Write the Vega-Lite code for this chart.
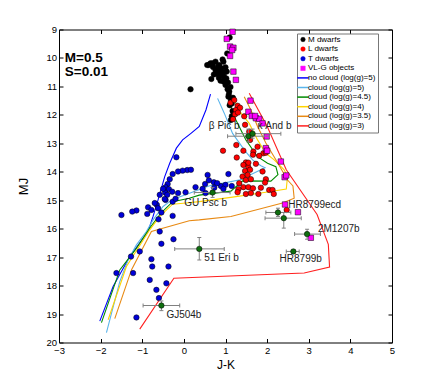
{
"$schema":"https://vega.github.io/schema/vega-lite/v6.json",
"width":333,"height":313,
"autosize":{"type":"none"},
"padding":{"left":59,"top":29.5,"right":44,"bottom":43},
"background":"white",
"config":{"view":{"stroke":"black","strokeWidth":1},"font":"Liberation Sans"},
"datasets":{
"models":[
{"s":"no cloud (log(g)=5)","i":0,"jk":0.64,"mj":11.27},{"s":"no cloud (log(g)=5)","i":1,"jk":0.53,"mj":11.83},{"s":"no cloud (log(g)=5)","i":2,"jk":0.37,"mj":12.41},{"s":"no cloud (log(g)=5)","i":3,"jk":0.17,"mj":12.65},{"s":"no cloud (log(g)=5)","i":4,"jk":-0.03,"mj":12.88},{"s":"no cloud (log(g)=5)","i":5,"jk":-0.18,"mj":13.17},{"s":"no cloud (log(g)=5)","i":6,"jk":-0.34,"mj":13.7},{"s":"no cloud (log(g)=5)","i":7,"jk":-0.46,"mj":14.17},{"s":"no cloud (log(g)=5)","i":8,"jk":-0.62,"mj":14.99},{"s":"no cloud (log(g)=5)","i":9,"jk":-0.74,"mj":15.57},{"s":"no cloud (log(g)=5)","i":10,"jk":-0.86,"mj":16.1},{"s":"no cloud (log(g)=5)","i":11,"jk":-1.3,"mj":16.98},{"s":"no cloud (log(g)=5)","i":12,"jk":-1.7,"mj":18.03},{"s":"no cloud (log(g)=5)","i":13,"jk":-2.02,"mj":19.25},
{"s":"cloud (log(g)=5)","i":0,"jk":0.81,"mj":11.42},{"s":"cloud (log(g)=5)","i":1,"jk":0.97,"mj":11.94},{"s":"cloud (log(g)=5)","i":2,"jk":1.17,"mj":12.65},{"s":"cloud (log(g)=5)","i":3,"jk":1.45,"mj":13.23},{"s":"cloud (log(g)=5)","i":4,"jk":1.65,"mj":13.58},{"s":"cloud (log(g)=5)","i":5,"jk":1.85,"mj":13.79},{"s":"cloud (log(g)=5)","i":6,"jk":1.95,"mj":13.86},{"s":"cloud (log(g)=5)","i":7,"jk":1.35,"mj":14.28},{"s":"cloud (log(g)=5)","i":8,"jk":0.95,"mj":14.4},{"s":"cloud (log(g)=5)","i":9,"jk":0.6,"mj":14.5},{"s":"cloud (log(g)=5)","i":10,"jk":0.2,"mj":14.72},{"s":"cloud (log(g)=5)","i":11,"jk":-0.27,"mj":14.97},{"s":"cloud (log(g)=5)","i":12,"jk":-0.5,"mj":15.22},{"s":"cloud (log(g)=5)","i":13,"jk":-0.74,"mj":15.69},{"s":"cloud (log(g)=5)","i":14,"jk":-0.9,"mj":16.1},{"s":"cloud (log(g)=5)","i":15,"jk":-1.14,"mj":16.57},{"s":"cloud (log(g)=5)","i":16,"jk":-1.34,"mj":17.1},{"s":"cloud (log(g)=5)","i":17,"jk":-1.54,"mj":17.86},{"s":"cloud (log(g)=5)","i":18,"jk":-1.86,"mj":19.65},
{"s":"cloud (log(g)=4.5)","i":0,"jk":1.09,"mj":11.3},{"s":"cloud (log(g)=4.5)","i":1,"jk":1.13,"mj":11.71},{"s":"cloud (log(g)=4.5)","i":2,"jk":1.25,"mj":12.18},{"s":"cloud (log(g)=4.5)","i":3,"jk":1.49,"mj":12.88},{"s":"cloud (log(g)=4.5)","i":4,"jk":1.77,"mj":13.47},{"s":"cloud (log(g)=4.5)","i":5,"jk":2.01,"mj":13.7},{"s":"cloud (log(g)=4.5)","i":6,"jk":2.21,"mj":13.82},{"s":"cloud (log(g)=4.5)","i":7,"jk":2.26,"mj":14.1},{"s":"cloud (log(g)=4.5)","i":8,"jk":2.09,"mj":14.33},{"s":"cloud (log(g)=4.5)","i":9,"jk":1.41,"mj":14.32},{"s":"cloud (log(g)=4.5)","i":10,"jk":1.13,"mj":14.68},{"s":"cloud (log(g)=4.5)","i":11,"jk":0.37,"mj":14.82},{"s":"cloud (log(g)=4.5)","i":12,"jk":0.13,"mj":14.93},{"s":"cloud (log(g)=4.5)","i":13,"jk":-0.27,"mj":15.05},{"s":"cloud (log(g)=4.5)","i":14,"jk":-0.55,"mj":15.45},{"s":"cloud (log(g)=4.5)","i":15,"jk":-0.82,"mj":15.98},{"s":"cloud (log(g)=4.5)","i":16,"jk":-1.14,"mj":16.69},{"s":"cloud (log(g)=4.5)","i":17,"jk":-1.54,"mj":17.45},{"s":"cloud (log(g)=4.5)","i":18,"jk":-1.98,"mj":19.3},
{"s":"cloud (log(g)=4)","i":0,"jk":1.2,"mj":11.45},{"s":"cloud (log(g)=4)","i":1,"jk":1.37,"mj":11.94},{"s":"cloud (log(g)=4)","i":2,"jk":1.57,"mj":12.3},{"s":"cloud (log(g)=4)","i":3,"jk":1.77,"mj":12.88},{"s":"cloud (log(g)=4)","i":4,"jk":1.97,"mj":13.35},{"s":"cloud (log(g)=4)","i":5,"jk":2.17,"mj":13.58},{"s":"cloud (log(g)=4)","i":6,"jk":2.41,"mj":13.93},{"s":"cloud (log(g)=4)","i":7,"jk":2.49,"mj":14.17},{"s":"cloud (log(g)=4)","i":8,"jk":2.46,"mj":14.61},{"s":"cloud (log(g)=4)","i":9,"jk":1.93,"mj":14.73},{"s":"cloud (log(g)=4)","i":10,"jk":1.17,"mj":14.89},{"s":"cloud (log(g)=4)","i":11,"jk":0.37,"mj":15.05},{"s":"cloud (log(g)=4)","i":12,"jk":0.05,"mj":15.1},{"s":"cloud (log(g)=4)","i":13,"jk":-0.27,"mj":15.14},{"s":"cloud (log(g)=4)","i":14,"jk":-0.58,"mj":15.57},{"s":"cloud (log(g)=4)","i":15,"jk":-0.82,"mj":16.04},{"s":"cloud (log(g)=4)","i":16,"jk":-1.38,"mj":17.33},{"s":"cloud (log(g)=4)","i":17,"jk":-1.82,"mj":19.2},
{"s":"cloud (log(g)=3.5)","i":0,"jk":1.45,"mj":11.36},{"s":"cloud (log(g)=3.5)","i":1,"jk":1.61,"mj":11.83},{"s":"cloud (log(g)=3.5)","i":2,"jk":1.77,"mj":12.41},{"s":"cloud (log(g)=3.5)","i":3,"jk":1.97,"mj":12.99},{"s":"cloud (log(g)=3.5)","i":4,"jk":2.21,"mj":13.58},{"s":"cloud (log(g)=3.5)","i":5,"jk":2.49,"mj":14.29},{"s":"cloud (log(g)=3.5)","i":6,"jk":2.62,"mj":14.5},{"s":"cloud (log(g)=3.5)","i":7,"jk":2.65,"mj":14.93},{"s":"cloud (log(g)=3.5)","i":8,"jk":2.37,"mj":15.1},{"s":"cloud (log(g)=3.5)","i":9,"jk":1.13,"mj":15.57},{"s":"cloud (log(g)=3.5)","i":10,"jk":0.37,"mj":15.69},{"s":"cloud (log(g)=3.5)","i":11,"jk":0.13,"mj":15.72},{"s":"cloud (log(g)=3.5)","i":12,"jk":-0.78,"mj":16.1},{"s":"cloud (log(g)=3.5)","i":13,"jk":-1.26,"mj":17.45},{"s":"cloud (log(g)=3.5)","i":14,"jk":-1.66,"mj":19.16},
{"s":"cloud (log(g)=3)","i":0,"jk":1.57,"mj":11.24},{"s":"cloud (log(g)=3)","i":1,"jk":2.0,"mj":12.4},{"s":"cloud (log(g)=3)","i":2,"jk":2.46,"mj":13.93},{"s":"cloud (log(g)=3)","i":3,"jk":3.2,"mj":15.5},{"s":"cloud (log(g)=3)","i":4,"jk":3.47,"mj":16.55},{"s":"cloud (log(g)=3)","i":5,"jk":3.5,"mj":17.35},{"s":"cloud (log(g)=3)","i":6,"jk":2.89,"mj":17.56},{"s":"cloud (log(g)=3)","i":7,"jk":-0.24,"mj":17.74},{"s":"cloud (log(g)=3)","i":8,"jk":-1.06,"mj":19.53}
],
"stars":[
{"s":"M dwarfs","jk":1.10,"mj":9.28},{"s":"M dwarfs","jk":1.04,"mj":9.84},{"s":"M dwarfs","jk":0.60,"mj":10.25},{"s":"M dwarfs","jk":0.69,"mj":10.19},{"s":"M dwarfs","jk":0.76,"mj":10.13},{"s":"M dwarfs","jk":0.93,"mj":10.05},{"s":"M dwarfs","jk":0.95,"mj":10.13},{"s":"M dwarfs","jk":0.85,"mj":10.25},{"s":"M dwarfs","jk":0.76,"mj":10.42},{"s":"M dwarfs","jk":0.87,"mj":10.45},{"s":"M dwarfs","jk":1.00,"mj":10.33},{"s":"M dwarfs","jk":1.03,"mj":10.48},{"s":"M dwarfs","jk":0.66,"mj":10.74},{"s":"M dwarfs","jk":0.81,"mj":10.56},{"s":"M dwarfs","jk":0.92,"mj":10.60},{"s":"M dwarfs","jk":0.97,"mj":10.68},{"s":"M dwarfs","jk":0.95,"mj":10.83},{"s":"M dwarfs","jk":1.00,"mj":10.95},{"s":"M dwarfs","jk":1.05,"mj":11.10},{"s":"M dwarfs","jk":1.09,"mj":11.18},{"s":"M dwarfs","jk":1.07,"mj":11.36},{"s":"M dwarfs","jk":1.13,"mj":11.48},{"s":"M dwarfs","jk":0.16,"mj":11.10},{"s":"M dwarfs","jk":0.56,"mj":10.25},{"s":"M dwarfs","jk":0.64,"mj":10.19},{"s":"M dwarfs","jk":0.90,"mj":10.36},{"s":"M dwarfs","jk":0.84,"mj":10.70},{"s":"M dwarfs","jk":0.88,"mj":10.80},{"s":"M dwarfs","jk":1.08,"mj":11.28},{"s":"M dwarfs","jk":1.15,"mj":11.60},{"s":"M dwarfs","jk":1.10,"mj":11.66},{"s":"M dwarfs","jk":1.17,"mj":11.86},{"s":"M dwarfs","jk":1.13,"mj":12.18},{"s":"M dwarfs","jk":1.20,"mj":11.95},{"s":"M dwarfs","jk":1.06,"mj":10.86},{"s":"M dwarfs","jk":0.98,"mj":10.50},{"s":"M dwarfs","jk":0.72,"mj":10.58},{"s":"M dwarfs","jk":1.18,"mj":11.40},{"s":"M dwarfs","jk":1.15,"mj":12.05},{"s":"M dwarfs","jk":0.82,"mj":10.30},{"s":"M dwarfs","jk":1.02,"mj":10.72},{"s":"M dwarfs","jk":1.12,"mj":11.02},{"s":"M dwarfs","jk":0.70,"mj":10.32},
{"s":"L dwarfs","jk":1.12,"mj":11.57},{"s":"L dwarfs","jk":1.21,"mj":11.48},{"s":"L dwarfs","jk":1.29,"mj":11.68},{"s":"L dwarfs","jk":1.25,"mj":11.83},{"s":"L dwarfs","jk":1.23,"mj":11.98},{"s":"L dwarfs","jk":1.35,"mj":11.75},{"s":"L dwarfs","jk":1.47,"mj":12.35},{"s":"L dwarfs","jk":1.57,"mj":12.59},{"s":"L dwarfs","jk":1.59,"mj":12.88},{"s":"L dwarfs","jk":0.94,"mj":13.26},{"s":"L dwarfs","jk":1.26,"mj":13.06},{"s":"L dwarfs","jk":1.67,"mj":13.29},{"s":"L dwarfs","jk":1.77,"mj":13.12},{"s":"L dwarfs","jk":1.91,"mj":13.35},{"s":"L dwarfs","jk":1.43,"mj":13.26},{"s":"L dwarfs","jk":1.66,"mj":13.40},{"s":"L dwarfs","jk":1.27,"mj":13.50},{"s":"L dwarfs","jk":1.97,"mj":13.33},{"s":"L dwarfs","jk":1.49,"mj":13.67},{"s":"L dwarfs","jk":1.43,"mj":13.76},{"s":"L dwarfs","jk":1.55,"mj":13.84},{"s":"L dwarfs","jk":1.47,"mj":13.97},{"s":"L dwarfs","jk":1.59,"mj":13.93},{"s":"L dwarfs","jk":1.41,"mj":14.17},{"s":"L dwarfs","jk":1.49,"mj":14.29},{"s":"L dwarfs","jk":1.97,"mj":14.26},{"s":"L dwarfs","jk":1.95,"mj":14.38},{"s":"L dwarfs","jk":1.43,"mj":14.54},{"s":"L dwarfs","jk":1.55,"mj":14.54},{"s":"L dwarfs","jk":1.31,"mj":14.61},{"s":"L dwarfs","jk":1.66,"mj":14.58},{"s":"L dwarfs","jk":1.85,"mj":14.56},{"s":"L dwarfs","jk":2.05,"mj":14.64},{"s":"L dwarfs","jk":1.49,"mj":14.78},{"s":"L dwarfs","jk":1.61,"mj":14.75},{"s":"L dwarfs","jk":2.13,"mj":14.64},{"s":"L dwarfs","jk":1.73,"mj":13.72},{"s":"L dwarfs","jk":1.89,"mj":13.99},{"s":"L dwarfs","jk":1.33,"mj":14.40},{"s":"L dwarfs","jk":1.29,"mj":14.72},{"s":"L dwarfs","jk":1.79,"mj":14.78},{"s":"L dwarfs","jk":2.16,"mj":14.78},{"s":"L dwarfs","jk":1.81,"mj":13.44},{"s":"L dwarfs","jk":2.47,"mj":15.34},{"s":"L dwarfs","jk":1.30,"mj":11.92},{"s":"L dwarfs","jk":1.45,"mj":12.05},{"s":"L dwarfs","jk":1.18,"mj":12.15},{"s":"L dwarfs","jk":1.53,"mj":14.11},{"s":"L dwarfs","jk":1.61,"mj":14.26},{"s":"L dwarfs","jk":1.55,"mj":13.68},
{"s":"T dwarfs","jk":-0.18,"mj":13.49},{"s":"T dwarfs","jk":0.08,"mj":13.94},{"s":"T dwarfs","jk":-0.03,"mj":13.96},{"s":"T dwarfs","jk":-0.14,"mj":13.99},{"s":"T dwarfs","jk":0.17,"mj":13.93},{"s":"T dwarfs","jk":-0.27,"mj":14.08},{"s":"T dwarfs","jk":-0.34,"mj":14.26},{"s":"T dwarfs","jk":-0.39,"mj":14.43},{"s":"T dwarfs","jk":-0.44,"mj":14.54},{"s":"T dwarfs","jk":-0.36,"mj":14.61},{"s":"T dwarfs","jk":-0.45,"mj":14.73},{"s":"T dwarfs","jk":-0.28,"mj":14.70},{"s":"T dwarfs","jk":-0.14,"mj":14.75},{"s":"T dwarfs","jk":0.04,"mj":14.72},{"s":"T dwarfs","jk":0.28,"mj":14.54},{"s":"T dwarfs","jk":0.57,"mj":14.11},{"s":"T dwarfs","jk":0.51,"mj":14.43},{"s":"T dwarfs","jk":0.72,"mj":14.37},{"s":"T dwarfs","jk":0.73,"mj":14.56},{"s":"T dwarfs","jk":-0.58,"mj":14.81},{"s":"T dwarfs","jk":-0.44,"mj":14.99},{"s":"T dwarfs","jk":-0.27,"mj":15.05},{"s":"T dwarfs","jk":-0.65,"mj":15.16},{"s":"T dwarfs","jk":-0.86,"mj":15.25},{"s":"T dwarfs","jk":-0.78,"mj":15.34},{"s":"T dwarfs","jk":-1.14,"mj":15.36},{"s":"T dwarfs","jk":-1.50,"mj":15.52},{"s":"T dwarfs","jk":-1.24,"mj":15.40},{"s":"T dwarfs","jk":-0.88,"mj":15.48},{"s":"T dwarfs","jk":-0.62,"mj":15.28},{"s":"T dwarfs","jk":-0.54,"mj":15.43},{"s":"T dwarfs","jk":-0.61,"mj":15.67},{"s":"T dwarfs","jk":-0.27,"mj":15.55},{"s":"T dwarfs","jk":-0.58,"mj":16.10},{"s":"T dwarfs","jk":-0.25,"mj":16.37},{"s":"T dwarfs","jk":-1.62,"mj":17.56},{"s":"T dwarfs","jk":-1.27,"mj":16.98},{"s":"T dwarfs","jk":-1.22,"mj":17.56},{"s":"T dwarfs","jk":-1.06,"mj":16.80},{"s":"T dwarfs","jk":-0.78,"mj":17.07},{"s":"T dwarfs","jk":-0.76,"mj":17.33},{"s":"T dwarfs","jk":-0.54,"mj":16.53},{"s":"T dwarfs","jk":-0.37,"mj":17.33},{"s":"T dwarfs","jk":-0.82,"mj":17.80},{"s":"T dwarfs","jk":-0.42,"mj":17.92},{"s":"T dwarfs","jk":-0.66,"mj":18.15},{"s":"T dwarfs","jk":-0.60,"mj":18.44},{"s":"T dwarfs","jk":-1.14,"mj":19.12},{"s":"T dwarfs","jk":-0.40,"mj":14.81},{"s":"T dwarfs","jk":-0.46,"mj":14.96},{"s":"T dwarfs","jk":0.52,"mj":14.75},{"s":"T dwarfs","jk":0.89,"mj":14.50},{"s":"T dwarfs","jk":1.07,"mj":14.08},{"s":"T dwarfs","jk":1.15,"mj":14.50},{"s":"T dwarfs","jk":0.45,"mj":14.60},{"s":"T dwarfs","jk":0.80,"mj":14.40},{"s":"T dwarfs","jk":1.00,"mj":14.46},{"s":"T dwarfs","jk":-0.70,"mj":15.10},{"s":"T dwarfs","jk":-0.20,"mj":14.95},{"s":"T dwarfs","jk":0.60,"mj":14.30},{"s":"T dwarfs","jk":0.95,"mj":14.60},{"s":"T dwarfs","jk":-0.50,"mj":14.60},
{"s":"VL-G objects","jk":1.17,"mj":9.08},{"s":"VL-G objects","jk":1.03,"mj":9.33},{"s":"VL-G objects","jk":1.11,"mj":9.60},{"s":"VL-G objects","jk":1.19,"mj":9.64},{"s":"VL-G objects","jk":1.16,"mj":9.72},{"s":"VL-G objects","jk":1.11,"mj":9.93},{"s":"VL-G objects","jk":1.19,"mj":10.48},{"s":"VL-G objects","jk":1.25,"mj":10.77},{"s":"VL-G objects","jk":1.60,"mj":11.50},{"s":"VL-G objects","jk":1.55,"mj":11.89},{"s":"VL-G objects","jk":1.63,"mj":12.04},{"s":"VL-G objects","jk":1.73,"mj":12.12},{"s":"VL-G objects","jk":1.81,"mj":12.14},{"s":"VL-G objects","jk":1.89,"mj":12.30},{"s":"VL-G objects","jk":1.99,"mj":12.76},{"s":"VL-G objects","jk":1.97,"mj":13.17},{"s":"VL-G objects","jk":2.00,"mj":13.26},{"s":"VL-G objects","jk":2.33,"mj":13.64},{"s":"VL-G objects","jk":2.42,"mj":14.19},{"s":"VL-G objects","jk":2.46,"mj":14.13},{"s":"VL-G objects","jk":2.43,"mj":15.15},{"s":"VL-G objects","jk":2.74,"mj":15.42},{"s":"VL-G objects","jk":3.05,"mj":16.32},{"s":"VL-G objects","jk":1.71,"mj":12.04}
],
"planets":[
{"n":"beta Pic b","jk":1.55,"mj":12.75,"x0":1.05,"x1":2.05,"y0":12.5,"y1":12.95},
{"n":"kappa And b","jk":1.65,"mj":12.66,"x0":1.25,"x1":2.33,"y0":12.5,"y1":12.82},
{"n":"GU Psc b","jk":0.69,"mj":14.73,"x0":0.25,"x1":1.11,"y0":14.55,"y1":14.9},
{"n":"51 Eri b","jk":0.37,"mj":16.71,"x0":-0.22,"x1":0.97,"y0":16.31,"y1":17.1},
{"n":"GJ504b","jk":-0.54,"mj":18.7,"x0":-0.98,"x1":-0.1,"y0":18.54,"y1":18.88},
{"n":"HR8799e","jk":2.26,"mj":15.43,"x0":1.97,"x1":2.57,"y0":15.28,"y1":15.57},
{"n":"HR8799cd","jk":2.4,"mj":15.63,"x0":1.95,"x1":2.82,"y0":15.43,"y1":15.98},
{"n":"2M1207b","jk":2.96,"mj":16.19,"x0":2.66,"x1":3.28,"y0":16.02,"y1":16.37},
{"n":"HR8799b","jk":2.63,"mj":16.8,"x0":2.46,"x1":2.77,"y0":16.74,"y1":16.86}
],
"labels":[
{"t":"β Pic b","jk":0.60,"mj":12.40},{"t":"κ And b","jk":1.77,"mj":12.40},{"t":"GU Psc b","jk":0.01,"mj":15.08},{"t":"51 Eri b","jk":0.49,"mj":17.04},{"t":"GJ504b","jk":-0.42,"mj":19.03},{"t":"HR8799ecd","jk":2.51,"mj":15.16},{"t":"2M1207b","jk":3.22,"mj":16.02},{"t":"HR8799b","jk":2.30,"mj":17.07}
],
"notes":[{"t":"M=0.5","jk":-2.86,"mj":9.99},{"t":"S=0.01","jk":-2.86,"mj":10.5}]
},
"resolve":{"axis":{"x":"independent","y":"independent"}},
"layer":[
{"data":{"name":"models"},
 "mark":{"type":"line","strokeWidth":1.1},
 "encoding":{
  "x":{"field":"jk","type":"quantitative","scale":{"domain":[-3,5],"nice":false,"zero":false},
   "axis":{"values":[-3,-2,-1,0,1,2,3,4,5],"tickSize":-4,"labelPadding":7,"domain":false,"grid":false,"title":"J-K","titleFontSize":12,"titleFontWeight":"normal","titleColor":"black","titlePadding":4,"labelFontSize":9.5,"labelColor":"black","tickColor":"black","labelFlush":false,"labelOverlap":false}},
  "y":{"field":"mj","type":"quantitative","scale":{"domain":[9,20],"reverse":true,"nice":false,"zero":false},
   "axis":{"values":[9,10,11,12,13,14,15,16,17,18,19,20],"tickSize":-4,"labelPadding":6.5,"domain":false,"grid":false,"title":"MJ","titleFontSize":13,"titleFontWeight":"normal","titleColor":"black","titlePadding":15,"labelFontSize":9.5,"labelColor":"black","tickColor":"black","labelFlush":false,"labelOverlap":false}},
  "order":{"field":"i","type":"quantitative"},
  "color":{"field":"s","type":"nominal",
   "scale":{"domain":["M dwarfs","L dwarfs","T dwarfs","VL-G objects","no cloud (log(g)=5)","cloud (log(g)=5)","cloud (log(g)=4.5)","cloud (log(g)=4)","cloud (log(g)=3.5)","cloud (log(g)=3)"],
            "range":["#000000","#ff0000","#0000d8","#ff00ff","#0000ff","#5ab4eb","#008c00","#ffd400","#e88a14","#ff2020"]},
   "legend":{"orient":"none","legendX":238,"legendY":4,"title":null,"fillColor":"white","strokeColor":"#777777","padding":2,
     "labelFontSize":8,"labelFont":"Liberation Sans","labelColor":"black","rowPadding":1.6,"labelOffset":1,"symbolSize":130,"symbolOpacity":1,
     "encode":{"symbols":{"update":{
       "shape":{"signal":"datum.value == 'VL-G objects' ? 'square' : (indexof(['M dwarfs','L dwarfs','T dwarfs'], datum.value) >= 0 ? 'circle' : 'stroke')"},
       "size":{"signal":"indexof(['M dwarfs','L dwarfs','T dwarfs','VL-G objects'], datum.value) >= 0 ? 20 : 130"},
       "fill":{"signal":"indexof(['M dwarfs','L dwarfs','T dwarfs','VL-G objects'], datum.value) >= 0 ? scale('color', datum.value) : 'transparent'"},
       "stroke":{"signal":"indexof(['M dwarfs','L dwarfs','T dwarfs','VL-G objects'], datum.value) >= 0 ? 'black' : scale('color', datum.value)"},
       "strokeWidth":{"signal":"indexof(['M dwarfs','L dwarfs','T dwarfs','VL-G objects'], datum.value) >= 0 ? 0.5 : 1.5"},
       "opacity":{"value":1}}}}}}
 }},
{"data":{"name":"stars"},
 "transform":[{"filter":"datum.s != 'VL-G objects'"}],
 "mark":{"type":"point","shape":"circle","filled":true,"size":30,"stroke":"black","strokeWidth":0.5,"opacity":1},
 "encoding":{
  "x":{"field":"jk","type":"quantitative","axis":null},
  "y":{"field":"mj","type":"quantitative","axis":null},
  "color":{"field":"s","type":"nominal"}}},
{"data":{"name":"stars"},
 "transform":[{"filter":"datum.s == 'VL-G objects'"}],
 "mark":{"type":"point","shape":"square","filled":true,"size":30,"stroke":"black","strokeWidth":0.5,"opacity":1},
 "encoding":{
  "x":{"field":"jk","type":"quantitative","axis":null},
  "y":{"field":"mj","type":"quantitative","axis":null},
  "color":{"field":"s","type":"nominal"}}},
{"data":{"name":"planets"},
 "mark":{"type":"rule","color":"#808080","strokeWidth":1},
 "encoding":{"x":{"field":"x0","type":"quantitative","axis":null},"x2":{"field":"x1"},"y":{"field":"mj","type":"quantitative","axis":null}}},
{"data":{"name":"planets"},
 "mark":{"type":"rule","color":"#808080","strokeWidth":1},
 "encoding":{"y":{"field":"y0","type":"quantitative","axis":null},"y2":{"field":"y1"},"x":{"field":"jk","type":"quantitative","axis":null}}},
{"data":{"name":"planets"},
 "mark":{"type":"tick","orient":"vertical","color":"#808080","thickness":1,"size":4,"opacity":1},
 "encoding":{"x":{"field":"x0","type":"quantitative","axis":null},"y":{"field":"mj","type":"quantitative","axis":null}}},
{"data":{"name":"planets"},
 "mark":{"type":"tick","orient":"vertical","color":"#808080","thickness":1,"size":4,"opacity":1},
 "encoding":{"x":{"field":"x1","type":"quantitative","axis":null},"y":{"field":"mj","type":"quantitative","axis":null}}},
{"data":{"name":"planets"},
 "mark":{"type":"tick","orient":"horizontal","color":"#808080","thickness":1,"size":4,"opacity":1},
 "encoding":{"x":{"field":"jk","type":"quantitative","axis":null},"y":{"field":"y0","type":"quantitative","axis":null}}},
{"data":{"name":"planets"},
 "mark":{"type":"tick","orient":"horizontal","color":"#808080","thickness":1,"size":4,"opacity":1},
 "encoding":{"x":{"field":"jk","type":"quantitative","axis":null},"y":{"field":"y1","type":"quantitative","axis":null}}},
{"data":{"name":"planets"},
 "mark":{"type":"point","shape":"circle","filled":true,"size":30,"fill":"#0f6e0f","stroke":"black","strokeWidth":0.5,"opacity":1},
 "encoding":{
  "x":{"field":"jk","type":"quantitative","axis":{"orient":"top","values":[-3,-2,-1,0,1,2,3,4,5],"labels":false,"title":null,"domain":false,"grid":false,"tickSize":-4,"tickColor":"black"}},
  "y":{"field":"mj","type":"quantitative","axis":{"orient":"right","values":[9,10,11,12,13,14,15,16,17,18,19,20],"labels":false,"title":null,"domain":false,"grid":false,"tickSize":-4,"tickColor":"black"}}}},
{"data":{"name":"labels"},
 "mark":{"type":"text","align":"left","baseline":"middle","fontSize":10,"color":"#222222","font":"Liberation Sans"},
 "encoding":{"x":{"field":"jk","type":"quantitative","axis":null},"y":{"field":"mj","type":"quantitative","axis":null},"text":{"field":"t"}}},
{"data":{"name":"notes"},
 "mark":{"type":"text","align":"left","baseline":"middle","fontSize":13.5,"fontWeight":"bold","color":"black","font":"Liberation Sans"},
 "encoding":{"x":{"field":"jk","type":"quantitative","axis":null},"y":{"field":"mj","type":"quantitative","axis":null},"text":{"field":"t"}}}
]
}
